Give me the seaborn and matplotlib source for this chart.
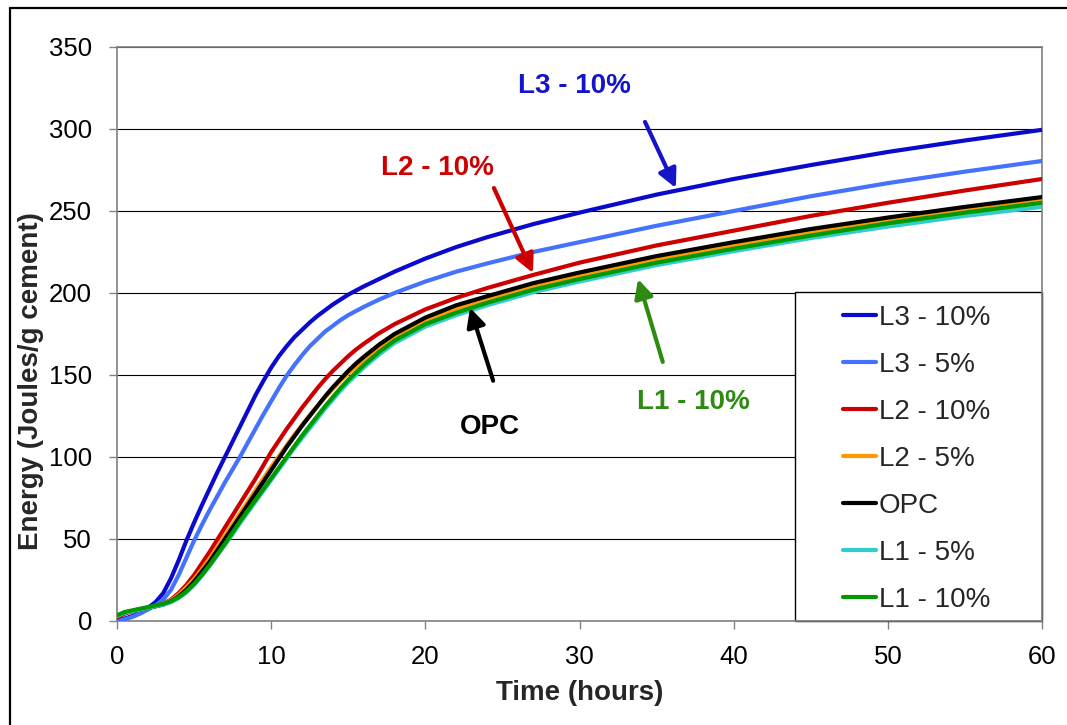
import matplotlib
matplotlib.use("Agg")
import matplotlib.pyplot as plt
from matplotlib.lines import Line2D
from matplotlib.patches import Rectangle
import pandas as pd
import seaborn as sns

# Cumulative heat of hydration (J/g cement) vs. time (h)
hours = [0, 0.5, 1, 1.5, 2, 2.5, 3, 3.5, 4, 4.5, 5, 5.5, 6, 6.5, 7, 7.5, 8,
         8.5, 9, 9.5, 10, 10.5, 11, 11.5, 12, 12.5, 13, 13.5, 14, 14.5, 15,
         15.5, 16, 17, 18, 20, 22, 24, 27, 30, 35, 40, 45, 50, 55, 60]

l3_10 = [0, 1.5, 3, 5, 8, 11.5, 17, 26, 37, 49, 60, 70.5, 80.5, 90.5, 100,
         109.5, 119, 128.5, 138, 146.5, 154.5, 161.5, 167.5, 173, 177.5, 182,
         186, 189.5, 193, 196, 199, 201.5, 204, 208.5, 213, 221, 228, 234,
         242, 249, 260, 269.5, 278, 286, 293, 299.5]
l3_5 = [0, 1, 2.5, 4.5, 7, 9.5, 13, 19, 28, 38.5, 49, 58.5, 67.5, 76, 84.5,
        92.5, 100.5, 109, 117.5, 126, 134, 142, 149.5, 156, 162, 167.5, 172,
        176.5, 180, 183.5, 186.5, 189, 191.5, 196, 200, 207, 213, 218, 225,
        231, 241, 250, 259, 267, 274, 280.5]
l2_10 = [2, 4.5, 6, 7, 8, 9, 10.5, 13, 17, 22, 28, 35, 42, 49.5, 57, 64.5,
         72, 79.5, 87, 95, 103, 110, 117, 123.5, 130, 136, 142, 147.5, 152.5,
         157, 161.5, 165.5, 169, 175.5, 181, 190, 197, 203, 211, 218.5, 229,
         238, 247, 255, 262.5, 269.5]
l2_5 = [3, 5, 6, 7, 8, 9, 10.5, 12.5, 16, 20.5, 25.5, 31.5, 38, 45, 52, 59,
        66, 73, 80, 87, 94, 100.5, 107, 113.5, 119.5, 125.5, 131, 136.5,
        141.5, 146.5, 151, 155, 159, 166.5, 173, 183, 190.5, 196, 204, 210.5,
        220.5, 229, 237, 244.5, 251, 257]
opc = [3, 5, 6, 7, 8, 9, 10, 12, 15, 19, 24, 30, 36, 43, 50, 57, 64, 71, 78,
       85, 92, 99, 106, 112.5, 119, 125, 131, 137, 142.5, 147.5, 152.5, 157,
       161, 168.5, 175, 185, 192.5, 198, 206, 212.5, 222.5, 231, 239, 246,
       252.5, 258.5]
l1_5 = [3, 5, 6, 7, 8, 9, 10, 11.5, 14, 17.5, 22, 27.5, 33.5, 40, 46.5, 53,
        60, 66.5, 73, 79.5, 86, 92.5, 99, 105.5, 111.5, 117.5, 123.5, 129.5,
        135, 140.5, 145.5, 150, 154.5, 162.5, 169.5, 179.5, 186.5, 192.5,
        200.5, 207, 217, 225.5, 233.5, 240.5, 247, 252.5]
l1_10 = [3.5, 5.5, 6.5, 7.5, 8.5, 9.5, 10.5, 12, 14.5, 18, 22.5, 28, 34, 40.5,
         47, 54, 61, 67.5, 74, 80.5, 87, 93.5, 100, 106.5, 113, 119, 125, 131,
         136.5, 142, 147, 151.5, 156, 164, 171, 181, 188, 194, 202, 208.5,
         218.5, 227, 235, 242.5, 249, 255]

series_names = ["L3 - 10%", "L3 - 5%", "L2 - 10%", "L2 - 5%", "OPC", "L1 - 5%", "L1 - 10%"]
series_values = [l3_10, l3_5, l2_10, l2_5, opc, l1_5, l1_10]
series_colors = ["#0A0ACC", "#4472FF", "#CC0000", "#FF9900", "#000000", "#33CCCC", "#009A00"]

x_ticks = [0, 10, 20, 30, 40, 50, 60]
y_ticks = [0, 50, 100, 150, 200, 250, 300, 350]

df = pd.concat(
    [pd.DataFrame({"Time": hours, "Energy": vals, "Mix": name})
     for name, vals in zip(series_names, series_values)],
    ignore_index=True,
)

sns.set_theme(style="white")
plt.rcParams["font.family"] = ["Liberation Sans", "DejaVu Sans"]

fig = plt.figure(figsize=(10.67, 7.25), dpi=100)
ax = fig.add_axes([117 / 1067, 1 - 621 / 725, 925 / 1067, 574 / 725])

sns.lineplot(
    data=df, x="Time", y="Energy", hue="Mix", hue_order=series_names,
    palette=dict(zip(series_names, series_colors)), estimator=None,
    sort=False, linewidth=3, ax=ax, zorder=3,
)
for ln in ax.lines:
    ln.set_solid_joinstyle("round")
    ln.set_solid_capstyle("round")

ax.set_xlim(0, 60)
ax.set_ylim(0, 350)
ax.set_xticks(x_ticks)
ax.set_yticks(y_ticks)
ax.set_xticklabels([str(v) for v in x_ticks])
ax.set_yticklabels([str(v) for v in y_ticks])
ax.tick_params(axis="both", which="major", direction="out", length=6,
               width=1, color="#808080", labelsize=18.5, labelcolor="black",
               left=True, bottom=True)
ax.tick_params(axis="y", pad=12)
ax.tick_params(axis="x", pad=11)

ax.yaxis.grid(True, color="#000000", linewidth=0.8)
ax.xaxis.grid(False)
ax.set_axisbelow(True)
for sp in ax.spines.values():
    sp.set_color("#808080")
    sp.set_linewidth(1.2)
    sp.set_visible(True)

ax.set_xlabel("Time (hours)", fontsize=20, fontweight="bold", labelpad=8)
ax.set_ylabel("Energy (Joules/g cement)", fontsize=20, fontweight="bold")
ax.yaxis.set_label_coords(-0.079, 0.418)

# Callout labels with arrows
callouts = [
    ("L3 - 10%", "#1414C8", (29.7, 326.2), (34.25, 304.3), (36.25, 264.0)),
    ("L2 - 10%", "#CC0000", (20.76, 276.2), (24.45, 264.0), (26.98, 212.2)),
    ("OPC", "#000000", (24.2, 118.3), (24.4, 146.5), (22.9, 191.0)),
    ("L1 - 10%", "#2E8B12", (37.4, 133.5), (35.4, 158.0), (33.8, 208.5)),
]
for label, color, txt_pos, start, tip in callouts:
    ax.text(txt_pos[0], txt_pos[1], label, color=color, fontsize=20,
            fontweight="bold", ha="center", va="center", zorder=5)
    ax.annotate("", xy=tip, xytext=start,
                arrowprops=dict(arrowstyle="-|>", color=color, lw=3,
                                mutation_scale=28, shrinkA=0, shrinkB=0),
                zorder=5)

# Legend box
x0 = (795 - 117) / 925
y1 = (621 - 292) / 574
ax.add_patch(Rectangle((x0, 0), 1 - x0, y1, transform=ax.transAxes,
                       facecolor="white", edgecolor="black", linewidth=1,
                       zorder=2.5, clip_on=False))
handles, labels = ax.get_legend_handles_labels()
if ax.get_legend() is not None:
    ax.get_legend().remove()
leg = ax.legend(
    handles, labels, loc="upper left",
    bbox_to_anchor=((843 - 117) / 925, (621 - 305) / 574),
    frameon=False, fontsize=20, handlelength=1.2, handletextpad=0.08,
    labelspacing=0.755, borderpad=0, borderaxespad=0,
)
leg.set_zorder(6)
for h in leg.legend_handles:
    h.set_linewidth(3)

# Outer frame (left and top edges)
fig.add_artist(Line2D([10 / 1067, 10 / 1067], [0, 1 - 8 / 725],
                      transform=fig.transFigure, color="black", lw=1.6))
fig.add_artist(Line2D([10 / 1067, 1], [1 - 8 / 725, 1 - 8 / 725],
                      transform=fig.transFigure, color="black", lw=1.6))

fig.savefig("out.png", dpi=100, facecolor="white")
